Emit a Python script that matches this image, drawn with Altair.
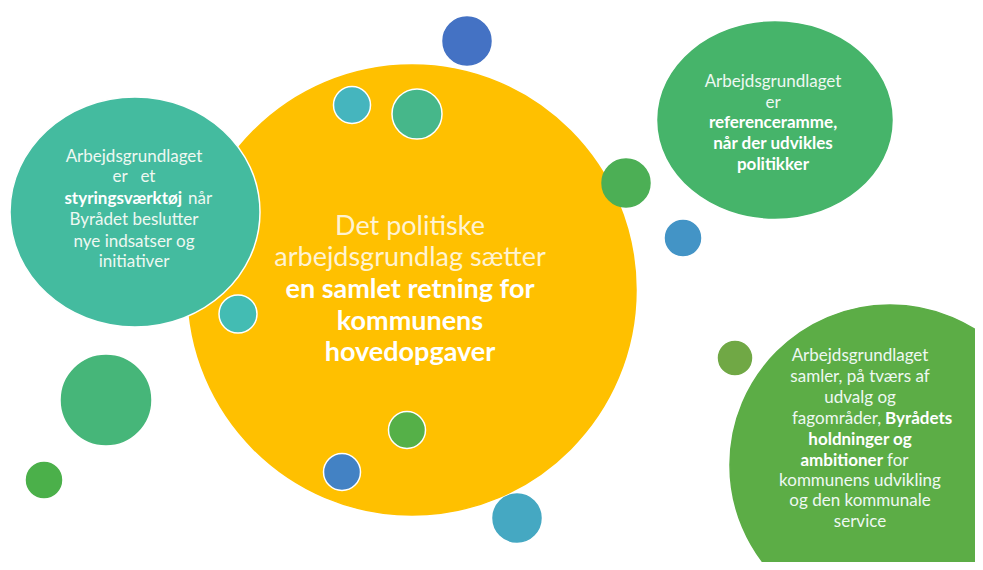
import altair as alt
import pandas as pd

# ---- circles (reference pixel space) ----
c_x = [412, 135, 775, 890, 467, 352, 417, 626, 683, 238, 106, 44, 407, 342, 517, 735]
c_y = [290, 212, 120, 465, 41, 105, 114, 183, 238, 314, 400, 480, 430, 472, 518, 358]
c_rx = [224, 125, 117, 160, 24, 18.5, 25, 24, 17.5, 19, 44.5, 17.5, 18.5, 18.5, 24, 18]
c_ry = [225, 115, 98, 160, 24, 18.5, 25, 24, 17.5, 19, 44.5, 17.5, 18.5, 18.5, 24, 18]
c_color = ["#FFC000", "#44BB9F", "#46B46A", "#5CAD46", "#4472C4", "#45B5BE",
           "#46B78A", "#4CAF55", "#4394C6", "#43BCB3", "#46B679", "#4BB04A",
           "#55B048", "#4382C4", "#45A8C2", "#70A845"]
c_outline = [0, 1, 0, 0, 0, 1, 1, 0, 0, 1, 0, 0, 1, 1, 0, 1]

# ---- labels ----
t_x = [410, 410, 410, 410, 410,
       134, 134, 182, 188, 134, 134, 134,
       773, 773, 773, 773, 773,
       860, 860, 860, 881, 885, 860, 883, 887, 860, 860, 860]
t_y = [227, 258, 290, 322, 353,
       157, 177, 199, 199, 220, 242, 262,
       82, 103, 123, 144, 165,
       356, 377, 398, 419, 419, 440, 461, 461, 481, 501, 522]
t_text = ["Det politiske", "arbejdsgrundlag sætter", "en samlet retning for", "kommunens", "hovedopgaver",
          "Arbejdsgrundlaget", "er\u2003et", "styringsværktøj", "når", "Byrådet beslutter", "nye indsatser og", "initiativer",
          "Arbejdsgrundlaget", "er", "referenceramme,", "når der udvikles", "politikker",
          "Arbejdsgrundlaget", "samler, på tværs af", "udvalg og", "fagområder,", "Byrådets", "holdninger og",
          "ambitioner", "for", "kommunens udvikling", "og den kommunale", "service"]
t_bold = [0, 0, 1, 1, 1,
          0, 0, 1, 0, 0, 0, 0,
          0, 0, 1, 1, 1,
          0, 0, 0, 0, 1, 1, 1, 0, 0, 0, 0]
t_align = ["center"] * 5 + ["center", "center", "right", "left", "center", "center", "center"] + ["center"] * 5 + \
          ["center", "center", "center", "right", "left", "center", "right", "left", "center", "center", "center"]
t_big = [1] * 5 + [0] * 23

circles = pd.DataFrame({"cx": c_x, "cy": c_y, "rx": c_rx, "ry": c_ry, "color": c_color, "outline": c_outline})
circles["order"] = range(len(circles))
circles["size"] = (2 * circles["rx"]) ** 2
circles["shape"] = [
    f"M -1 0 A 1 {ry / rx:.4f} 0 1 1 1 0 A 1 {ry / rx:.4f} 0 1 1 -1 0 Z" for rx, ry in zip(c_rx, c_ry)
]
circles["stroke"] = ["#FFFFFF" if o else c for o, c in zip(c_outline, c_color)]

labels = pd.DataFrame({"x": t_x, "y": t_y, "text": t_text, "bold": t_bold, "align": t_align, "big": t_big})
labels["fs"] = [27 if b else 17 for b in t_big]
labels["tcolor"] = ["#FFFFFF" if b else ("#FFF3D2" if g else "#EEF8F2") for b, g in zip(t_bold, t_big)]

W, H = 967, 554
xs = alt.Scale(domain=[8, 8 + W], nice=False, zero=False)
ys = alt.Scale(domain=[8, 8 + H], nice=False, zero=False, reverse=True)

circ = alt.Chart(circles).mark_point(filled=True, opacity=1, strokeWidth=1.5, strokeOpacity=1).encode(
    x=alt.X("cx:Q", scale=xs, axis=None),
    y=alt.Y("cy:Q", scale=ys, axis=None),
    size=alt.Size("size:Q", scale=None),
    shape=alt.Shape("shape:N", scale=None),
    fill=alt.Fill("color:N", scale=None),
    stroke=alt.Stroke("stroke:N", scale=None),
    order=alt.Order("order:Q"),
)

layers = [circ]
for bold in (0, 1):
    for align in ("center", "left", "right"):
        sub = labels[(labels["bold"] == bold) & (labels["align"] == align)]
        if len(sub) == 0:
            continue
        layers.append(
            alt.Chart(sub).mark_text(
                font="Lato", fontWeight="bold" if bold else "normal", align=align, baseline="middle"
            ).encode(
                x=alt.X("x:Q", scale=xs, axis=None),
                y=alt.Y("y:Q", scale=ys, axis=None),
                text="text:N",
                size=alt.Size("fs:Q", scale=None),
                color=alt.Color("tcolor:N", scale=None),
            )
        )

chart = alt.layer(*layers).properties(
    width=W, height=H, autosize=alt.AutoSizeParams(type="none"), padding=0, background="#FFFFFF"
).configure_view(stroke=None, strokeWidth=0)

chart.save("out.html", embed_options={"renderer": "svg", "actions": False})
